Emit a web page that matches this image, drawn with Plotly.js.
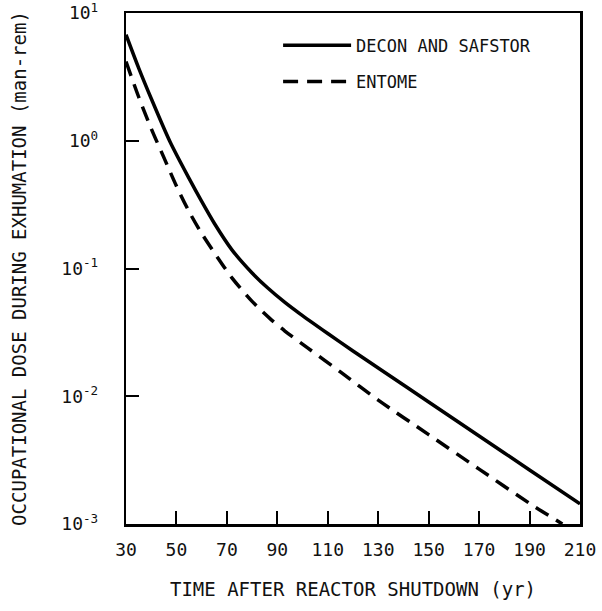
<!DOCTYPE html>
<html>
<head>
<meta charset="utf-8">
<script src="https://cdn.plot.ly/plotly-3.0.1.min.js"></script>
<style>html,body{margin:0;padding:0;background:#fff;}</style>
</head>
<body>
<div id="chart" style="width:602px;height:611px;"></div>
<script>
// DECON AND SAFSTOR
const deconX = [30, 35, 40, 47.5, 55, 60, 65, 72, 80, 86, 93, 99, 110, 120, 130, 150, 170, 190, 210];
const deconY = [6.76, 3.72, 2.14, 0.977, 0.507, 0.335, 0.226, 0.140, 0.0923, 0.0710, 0.0543, 0.0442, 0.0310, 0.0226, 0.01663, 0.00902, 0.00489, 0.00265, 0.00144];
// ENTOME
const entombX = [30, 35, 40, 45, 50, 55, 60, 66, 72, 80, 87, 93, 102, 115, 130, 150, 170, 190, 203];
const entombY = [4.17, 2.21, 1.245, 0.741, 0.442, 0.279, 0.188, 0.1245, 0.0845, 0.0553, 0.0407, 0.0324, 0.0239, 0.0155, 0.00933, 0.00501, 0.00269, 0.00145, 0.001];

const xTicks = [30, 50, 70, 90, 110, 130, 150, 170, 190, 210];
const yTickVals = [0.001, 0.01, 0.1, 1, 10];
const yTickText = ['10<sup>-3</sup>', '10<sup>-2</sup>', '10<sup>-1</sup>', '10<sup>0</sup>', '10<sup>1</sup>'].map(t => t + '\u00a0\u00a0');

const font = 'DejaVu Sans Mono, monospace';

const traces = [
  {x: deconX, y: deconY, mode: 'lines', name: 'DECON AND SAFSTOR', legendgroup: 'a',
   line: {color: '#000', width: 3.5, shape: 'spline', smoothing: 0.8}},
  {x: entombX, y: entombY, mode: 'lines', name: 'ENTOME', legendgroup: 'b',
   line: {color: '#000', width: 3.5, dash: '15px,9px', shape: 'spline', smoothing: 0.8}}
];

const layout = {
  width: 602, height: 611,
  margin: {l: 126, r: 22, t: 13, b: 87},
  paper_bgcolor: '#fff', plot_bgcolor: '#fff',
  font: {family: font, color: '#111', size: 16},
  showlegend: true,
  legend: {x: 0.335, y: 0.971, xanchor: 'left', yanchor: 'top', bgcolor: 'rgba(0,0,0,0)',
           font: {family: font, size: 17, color: '#111'}, itemwidth: 68,
           traceorder: 'grouped', tracegroupgap: 11},
  xaxis: {
    range: [30, 210], tickvals: xTicks, ticktext: xTicks.map(String),
    ticks: 'inside', ticklen: 13, tickwidth: 2, tickcolor: '#000',
    ticklabelstandoff: 8, ticklabeloverflow: 'allow',
    showline: true, linewidth: 2.5, linecolor: '#000', mirror: true,
    showgrid: false, zeroline: false,
    tickfont: {family: font, size: 18, color: '#111'},
    title: {text: 'TIME AFTER REACTOR SHUTDOWN (yr)', font: {family: font, size: 19, color: '#111'}, standoff: 24}
  },
  yaxis: {
    type: 'log', range: [-3, 1], tickvals: yTickVals, ticktext: yTickText,
    ticks: 'inside', ticklen: 13, tickwidth: 2, tickcolor: '#000',
    ticklabeloverflow: 'allow',
    showline: true, linewidth: 2.5, linecolor: '#000', mirror: true,
    showgrid: false, zeroline: false,
    tickfont: {family: font, size: 18, color: '#111'},
    title: {text: 'OCCUPATIONAL DOSE DURING EXHUMATION (man-rem)', font: {family: font, size: 19, color: '#111'}, standoff: 30}
  }
};

Plotly.newPlot('chart', traces, layout, {displayModeBar: false, staticPlot: true});
</script>
</body>
</html>
